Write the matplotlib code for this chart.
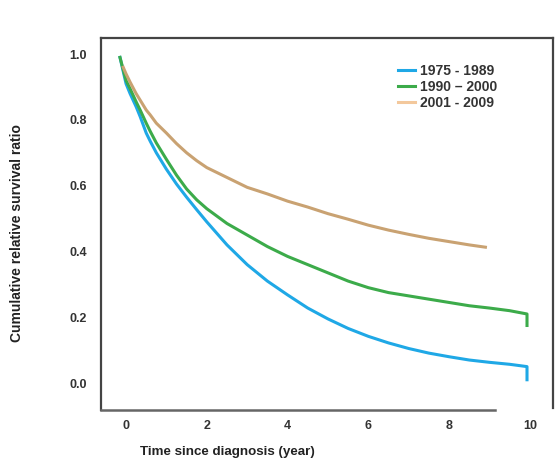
import matplotlib
matplotlib.use('Agg')
import matplotlib.pyplot as plt

plt.rcParams['font.family'] = ['Liberation Sans', 'DejaVu Sans']

# years since diagnosis
anos = [-0.15, 0, 0.1, 0.25, 0.35, 0.5, 0.6, 0.75, 1, 1.25, 1.5, 1.75, 2, 2.5,
        3, 3.5, 4, 4.5, 5, 5.5, 6, 6.5, 7, 7.5, 8, 8.5, 9, 9.5, 9.93, 9.93]

p1975 = [0.99, 0.91, 0.88, 0.84, 0.81, 0.76, 0.735, 0.70, 0.65, 0.605, 0.565,
         0.527, 0.49, 0.42, 0.36, 0.31, 0.268, 0.228, 0.195, 0.166, 0.142,
         0.122, 0.105, 0.091, 0.08, 0.07, 0.063, 0.057, 0.05, 0.01]
p1990 = [0.99, 0.92, 0.895, 0.855, 0.83, 0.79, 0.765, 0.73, 0.68, 0.632, 0.59,
         0.557, 0.53, 0.485, 0.45, 0.415, 0.385, 0.36, 0.335, 0.31, 0.29,
         0.275, 0.265, 0.255, 0.245, 0.235, 0.228, 0.22, 0.21, 0.175]

anos_2001 = [-0.07, 0, 0.1, 0.25, 0.35, 0.5, 0.6, 0.75, 1, 1.25, 1.5, 1.75, 2,
             2.5, 3, 3.5, 4, 4.5, 5, 5.5, 6, 6.5, 7, 7.5, 8, 8.5, 8.9]
p2001 = [0.96, 0.94, 0.915, 0.88, 0.86, 0.83, 0.815, 0.79, 0.76, 0.728, 0.70,
         0.676, 0.655, 0.625, 0.595, 0.575, 0.553, 0.535, 0.515, 0.498, 0.48,
         0.465, 0.452, 0.44, 0.43, 0.42, 0.413]

fig = plt.figure(figsize=(5.59, 4.75), dpi=100)
ax = fig.add_axes([0.1807, 0.1368, 0.8083, 0.7832])

ax.plot(anos, p1975, color='#1fa8e6', lw=2.2, label='1975 - 1989')
ax.plot(anos, p1990, color='#3cab4a', lw=2.2, label='1990 \u2013 2000')
ax.plot(anos_2001, p2001, color='#c9a272', lw=2.2, label='2001 - 2009')

ax.set_xlim(-0.62, 10.57)
ax.set_ylim(-0.082, 1.049)
ax.set_xticks([0, 2, 4, 6, 8, 10])
ax.set_yticks([0.0, 0.2, 0.4, 0.6, 0.8, 1.0])
ax.set_yticklabels(['0.0', '0.2', '0.4', '0.6', '0.8', '1.0'])
ax.tick_params(length=0, labelsize=9, labelcolor='#333333')
ax.tick_params(axis='x', pad=7)
ax.tick_params(axis='y', pad=10)
for lab in ax.get_xticklabels() + ax.get_yticklabels():
    lab.set_fontweight('bold')

for s in ['left', 'top', 'right']:
    ax.spines[s].set_color('#444444')
    ax.spines[s].set_linewidth(1.6)
ax.spines['right'].set_bounds(-0.075, 1.049)
ax.spines['bottom'].set_color('#666666')
ax.spines['bottom'].set_linewidth(1.8)
ax.spines['bottom'].set_bounds(-0.62, 9.13)

ax.set_xlabel('Time since diagnosis (year)', fontsize=9.6, fontweight='bold', color='#222222')
ax.xaxis.set_label_coords(0.279, -0.097)
ax.set_ylabel('Cumulative relative survival ratio', fontsize=10, fontweight='bold', color='#222222')
ax.yaxis.set_label_coords(-0.17, 0.476)

leg = ax.legend(loc='upper left', bbox_to_anchor=(0.657, 0.93), frameon=False,
                fontsize=10, handlelength=1.2, handletextpad=0.4, labelspacing=0.15,
                borderaxespad=0, borderpad=0)
for t in leg.get_texts():
    t.set_fontweight('bold')
    t.set_color('#333333')
leg.get_lines()[2].set_color('#f3c89c')

plt.savefig('out.png', dpi=100)
